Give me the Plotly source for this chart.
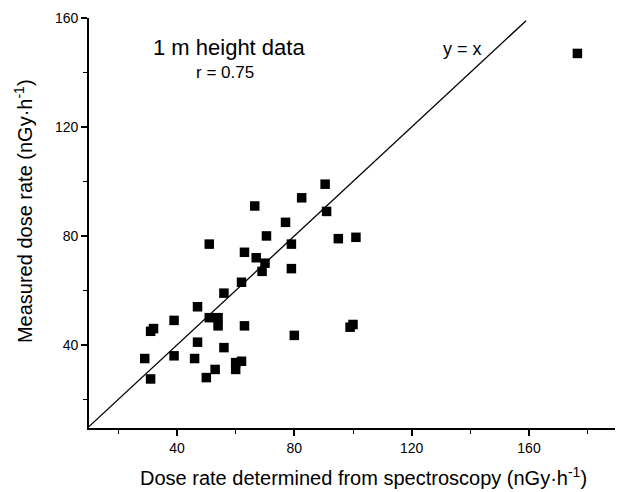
import plotly.graph_objects as go

# Dose rate determined from spectroscopy (x) vs measured dose rate (y), nGy/h
spec_dose = [176.5, 90.5, 91, 82.5, 66.5, 77, 70.5, 51, 79, 95, 101,
             63, 67, 70, 69, 79, 62, 56, 47, 39, 51, 54, 54, 31, 32,
             63, 80, 99, 100, 47, 56, 29, 39, 46, 31, 50, 53, 62, 60, 60]
meas_dose = [147, 99, 89, 94, 91, 85, 80, 77, 77, 79, 79.5,
             74, 72, 70, 67, 68, 63, 59, 54, 49, 50, 50, 47, 45, 46,
             47, 43.5, 46.5, 47.5, 41, 39, 35, 36, 35, 27.5, 28, 31, 34, 33.5, 31]
line_x = [10, 159]
line_y = [10, 159]
tick_vals = [40, 80, 120, 160]

FONT = "Liberation Sans, Arial, sans-serif"

fig = go.Figure()
fig.add_trace(go.Scatter(x=line_x, y=line_y, mode="lines",
                         line=dict(color="black", width=1.3),
                         showlegend=False, hoverinfo="skip"))
fig.add_trace(go.Scatter(x=spec_dose, y=meas_dose, mode="markers",
                         marker=dict(symbol="square", size=9.5, color="black"),
                         showlegend=False))

axis_common = dict(
    showgrid=False, zeroline=False, showline=True, linecolor="black", linewidth=1.6,
    ticks="outside", ticklen=6, tickwidth=1.5, tickcolor="black", automargin=False,
    tickvals=tick_vals, tickfont=dict(family=FONT, size=14, color="black"),
    minor=dict(ticks="outside", ticklen=4, tickwidth=1.2, tickcolor="black",
               tick0=0, dtick=20),
)

fig.update_xaxes(range=[10, 190], **axis_common)
fig.update_yaxes(range=[9.5, 160], **axis_common)

def note(x, y, text, size, angle=0):
    fig.add_annotation(x=x, y=y, xref="paper", yref="paper", text=text,
                       showarrow=False, xanchor="center", yanchor="middle",
                       textangle=angle, font=dict(family=FONT, size=size, color="black"))

note(0.519, -0.1195, "Dose rate determined from spectroscopy (nGy·h<sup>-1</sup>)", 20)
note(-0.125, 0.529, "Measured dose rate (nGy·h<sup>-1</sup>)", 20, angle=-90)
note(0.265, 0.929, "1 m height data", 22)
note(0.258, 0.868, "r = 0.75", 17)
note(0.708, 0.924, "y = x", 18)

fig.update_layout(width=623, height=492, plot_bgcolor="white", paper_bgcolor="white",
                  margin=dict(l=81, r=14, t=10, b=72))
fig.write_html("out.html")
